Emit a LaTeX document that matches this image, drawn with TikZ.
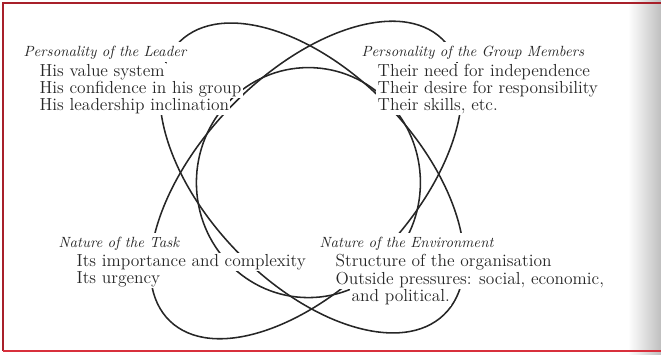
\documentclass[tikz,border=0pt]{standalone}
\usepackage{tikz}
\definecolor{ink}{HTML}{262626}
\definecolor{rule}{HTML}{D8303C}
\definecolor{ruledark}{HTML}{A8202A}
\tikzset{
  loop/.style={line width=1.1pt, draw=ink},
  head/.style={anchor=west, fill=white, text=ink, inner xsep=1pt, inner ysep=1pt,
    text height=9pt, text depth=3pt, font=\fontsize{10.5}{12}\selectfont\itshape},
  item/.style={head, inner ysep=0.6pt, font=\fontsize{12.4}{14}\selectfont}
}

\begin{document}
\begin{tikzpicture}
  \useasboundingbox (0,0) rectangle (16.525,8.875);
  % page edge: shadow at the right, red rules round it
  \fill[left color=white, right color=gray!50] (15.7,0) rectangle (16.525,8.875);
  \draw[ruledark, line width=1.2pt] (0.075,0.1) -- (0.075,8.8) -- (16.525,8.8);
  \draw[rule, line width=2pt] (0.075,0.1) -- (16.525,0.1);

  % the three loops
  \draw[loop, rotate around={-46:(7.8,4.425)}] (7.8,4.425) ellipse (4.75 and 2.625);
  \draw[loop, rotate around={46:(7.65,4.375)}] (7.65,4.375) ellipse (4.9 and 2.625);
  \draw[loop] (7.71,4.31) ellipse (2.8 and 2.875);

  % leader
  \node[head] (lead) at (0.55,7.575) {Personality of the Leader};
  \node[item] (lead1) at (0.95,7.075) {His value system};
  \node[item] (lead2) at (0.95,6.65) {His confidence in his group};
  \node[item] (lead3) at (0.95,6.225) {His leadership inclination};

  % group members
  \node[head] (group) at (9.0,7.575) {Personality of the Group Members};
  \node[item] (group1) at (9.4,7.075) {Their need for independence};
  \node[item] (group2) at (9.4,6.65) {Their desire for responsibility};
  \node[item] (group3) at (9.4,6.225) {Their skills, etc.};

  % task
  \node[head] (task) at (1.425,2.8) {Nature of the Task};
  \node[item] (task1) at (1.875,2.325) {Its importance and complexity};
  \node[item] (task2) at (1.875,1.9) {Its urgency};

  % environment
  \node[head] (env) at (7.95,2.8) {Nature of the Environment};
  \node[item] (env1) at (8.35,2.325) {Structure of the organisation};
  \node[item] (env2) at (8.35,1.875) {Outside pressures: social, economic,};
  \node[item] (env3) at (8.75,1.45) {and political.};
\end{tikzpicture}
\end{document}
